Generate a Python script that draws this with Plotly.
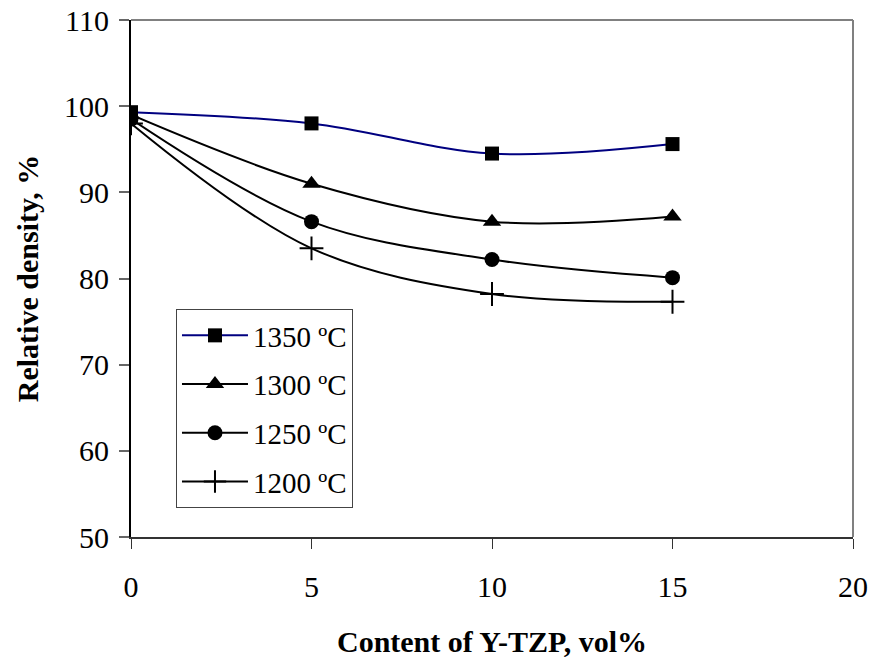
import plotly.graph_objects as go

x_vals = [0, 5, 10, 15]
s1350 = [99.3, 98.0, 94.5, 95.6]
s1300 = [99.0, 91.0, 86.6, 87.2]
s1250 = [98.5, 86.6, 82.2, 80.1]
s1200 = [98.0, 83.5, 78.2, 77.3]
names = ["1350 ºC", "1300 ºC", "1250 ºC", "1200 ºC"]
x_ticks = [0, 5, 10, 15, 20]
y_ticks = [50, 60, 70, 80, 90, 100, 110]

series = [s1350, s1300, s1250, s1200]
colors = ["#000080", "#000000", "#000000", "#000000"]
symbols = ["square", "triangle-up", "circle", "cross-thin"]
sizes = [14, 16, 15, 17]

fig = go.Figure()
for i, (ys, nm) in enumerate(zip(series, names)):
    marker = dict(symbol=symbols[i], size=sizes[i], color="#000000")
    if symbols[i] == "cross-thin":
        marker["line"] = dict(color="#000000", width=2)
    fig.add_trace(go.Scatter(
        x=x_vals, y=ys, name=nm, mode="lines+markers",
        line=dict(color=colors[i], width=2, shape="spline", smoothing=1.0),
        marker=marker, legendgroup=str(i),
    ))

font_family = "Liberation Serif, Times New Roman, serif"
fig.update_layout(
    width=874, height=662,
    margin=dict(l=131, r=21, t=20, b=125, autoexpand=False),
    paper_bgcolor="white", plot_bgcolor="white",
    font=dict(family=font_family, size=30, color="#000000"),
    showlegend=True,
    legend=dict(
        x=0.0623, y=0.441, xanchor="left", yanchor="top",
        bordercolor="#444444", borderwidth=1, bgcolor="white",
        font=dict(family=font_family, size=29, color="#000000"),
        tracegroupgap=8, itemwidth=66, entrywidth=180,
    ),
    xaxis=dict(
        range=[0, 20], tickvals=x_ticks, showgrid=False, zeroline=False,
        automargin=False,
        showline=True, linecolor="#333333", linewidth=2,
        ticks="outside", ticklen=10, tickcolor="#333333", tickwidth=1,
        tickfont=dict(family=font_family, size=30),
        ticklabelstandoff=12,
        title=dict(text="<b>Content of Y-TZP, vol%</b>",
                   font=dict(family=font_family, size=30), standoff=29),
    ),
    yaxis=dict(
        range=[50, 110], tickvals=y_ticks, showgrid=False, zeroline=False,
        automargin=False,
        showline=True, linecolor="#000000", linewidth=2,
        ticks="outside", ticklen=10, tickcolor="#666666", tickwidth=2,
        tickfont=dict(family=font_family, size=30),
        ticklabelstandoff=4,
        title=dict(text="<b>Relative density, %</b>",
                   font=dict(family=font_family, size=30), standoff=17),
    ),
    shapes=[
        dict(type="line", xref="paper", yref="paper", x0=0, x1=1, y0=1, y1=1,
             line=dict(color="#808080", width=2)),
        dict(type="line", xref="paper", yref="paper", x0=1, x1=1, y0=0, y1=1,
             line=dict(color="#808080", width=2)),
    ],
)

fig.write_html(
    "out.html",
    config={"displayModeBar": False},
    post_script="document.body.style.margin='0';document.body.style.overflow='hidden';",
)
